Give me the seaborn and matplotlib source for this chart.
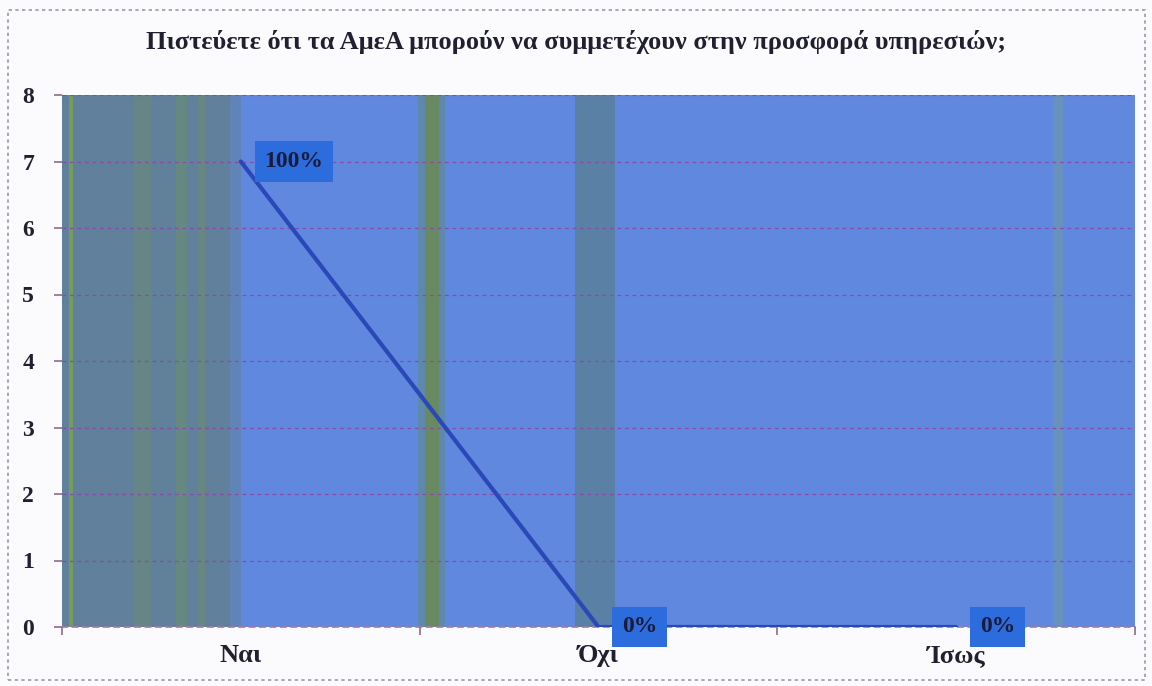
import matplotlib
matplotlib.use("Agg")
import matplotlib.pyplot as plt
from matplotlib.patches import Rectangle
import seaborn as sns
import pandas as pd

categories = ["Ναι", "Όχι", "Ίσως"]
counts = [7, 0, 0]
labels = ["100%", "0%", "0%"]
title = "Πιστεύετε ότι τα ΑμεΑ μπορούν να συμμετέχουν στην προσφορά υπηρεσιών;"

sns.set_theme(style="white")
plt.rcParams["font.family"] = ["Liberation Serif", "DejaVu Serif"]

fig = plt.figure(figsize=(11.52, 6.86), dpi=100)
fig.patch.set_facecolor("#fbfbfd")
ax = fig.add_axes([62 / 1152, 1 - 627 / 686, (1135 - 62) / 1152, (627 - 95) / 686])
ax.set_facecolor("#6088de")

# background bands of the plot area
ax.axvspan(-0.5, -0.03, color="#61809c", lw=0, zorder=0)
ax.axvspan(-0.03, 0.0, color="#6084b8", lw=0, zorder=0)
for x0, x1, c, a in [(-0.48, -0.47, "#7fa840", 0.7), (-0.30, -0.25, "#6f9060", 0.35),
                     (-0.18, -0.15, "#6f9a50", 0.35), (-0.12, -0.10, "#7a9a48", 0.3),
                     (0.495, 0.515, "#5f8a98", 0.7), (0.515, 0.555, "#6b8a4c", 0.85),
                     (0.555, 0.571, "#5f8a98", 0.7), (0.934, 1.046, "#5a7e98", 0.8),
                     (2.27, 2.30, "#6f9aa8", 0.6)]:
    ax.axvspan(x0, x1, color=c, alpha=a, lw=0, zorder=0)

df = pd.DataFrame({"answer": categories, "count": counts})
sns.lineplot(data=df, x="answer", y="count", sort=False, color="#2a48b8",
             lw=3, ax=ax, zorder=3)

ax.set_xlim(-0.5, 2.5)
ax.set_ylim(0, 8)
ax.set_yticks(range(0, 9))
ax.yaxis.grid(True, color="#8a4aa8", linestyle=(0, (3, 3)), lw=0.9)
ax.set_axisbelow(False)
ax.xaxis.grid(False)
for s in ["top", "right", "left"]:
    ax.spines[s].set_visible(False)
ax.spines["bottom"].set_color("#a080a8")
ax.spines["bottom"].set_linestyle((0, (3, 3)))
ax.set_xticks([-0.5, 0.5, 1.5, 2.5], minor=False)
ax.set_xticklabels([])
ax.set_xticks(range(3), minor=True)
ax.set_xticklabels(categories, minor=True, fontsize=19, fontweight="bold", color="#202030")
ax.tick_params(axis="x", which="major", direction="out", length=6, color="#907090", bottom=True)
ax.tick_params(axis="x", which="minor", length=0, pad=12)
ax.tick_params(axis="y", direction="out", length=6, color="#907090", left=True, pad=14,
               labelsize=17, labelcolor="#202030")
for t in ax.get_yticklabels():
    t.set_fontweight("bold")
ax.set_xlabel("")
ax.set_ylabel("")

for i, (v, lab) in enumerate(zip(counts, labels)):
    ax.annotate(lab, (i, v), xytext=(17, 0), textcoords="offset points",
                ha="left", va="center", fontsize=17, fontweight="bold",
                color="#1a1a3a", zorder=5,
                bbox=dict(boxstyle="square,pad=0.42", fc="#2d6cdc", ec="none"))

fig.text(0.5, 1 - 42 / 686, title, ha="center", va="center", fontsize=19,
         fontweight="bold", color="#202030")

fig.patches.append(Rectangle((8 / 1152, 6 / 686), 1137 / 1152, 670 / 686,
                             transform=fig.transFigure, fill=False, ec="#9a9aa8",
                             lw=1.2, ls=(0, (2, 2))))

fig.savefig("out.png", dpi=100, facecolor=fig.get_facecolor())
